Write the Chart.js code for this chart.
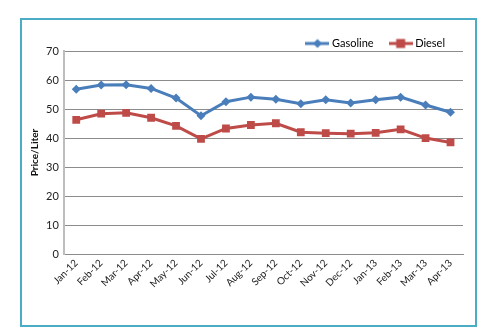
<!DOCTYPE html>
<html>
<head>
<meta charset="utf-8">
<script src="https://cdn.jsdelivr.net/npm/chart.js@4/dist/chart.umd.min.js"></script>
<style>
  html, body { margin: 0; padding: 0; background: #fff; }
  #wrap { width: 478px; height: 327px; }
</style>
</head>
<body>
<div id="wrap"><canvas id="chart" width="478" height="327"></canvas></div>
<script>
const months = ['Jan-12', 'Feb-12', 'Mar-12', 'Apr-12', 'May-12', 'Jun-12', 'Jul-12', 'Aug-12',
  'Sep-12', 'Oct-12', 'Nov-12', 'Dec-12', 'Jan-13', 'Feb-13', 'Mar-13', 'Apr-13'];
const gasoline = [56.8, 58.3, 58.4, 57.1, 53.8, 47.7, 52.5, 54.1, 53.4, 51.8, 53.2, 52.1, 53.2, 54.1, 51.4, 48.9];
const diesel = [46.3, 48.4, 48.7, 47.0, 44.2, 39.7, 43.3, 44.5, 45.1, 42.0, 41.7, 41.5, 41.8, 43.0, 40.0, 38.5];

const blue = '#4a7ebb';
const red = '#be4b48';
const font = 'Lato, "Liberation Sans", sans-serif';

// little line+marker swatch for the legend, like excel does
function swatch(color, shape) {
  const c = document.createElement('canvas');
  c.width = 24; c.height = 12;
  const g = c.getContext('2d');
  g.strokeStyle = color; g.fillStyle = color; g.lineWidth = 3;
  g.beginPath(); g.moveTo(0, 6); g.lineTo(24, 6); g.stroke();
  if (shape === 'diamond') {
    g.beginPath(); g.moveTo(12, 1.5); g.lineTo(16.5, 6); g.lineTo(12, 10.5); g.lineTo(7.5, 6); g.closePath(); g.fill();
  } else {
    g.fillRect(7.5, 1.5, 9, 9);
  }
  return c;
}

const frame = {
  id: 'frame',
  beforeInit(chart) {
    // pull the legend closer to the plot so it sits lower
    const fit = chart.legend.fit;
    chart.legend.fit = function() {
      fit.bind(chart.legend)();
      this.height -= 8;
    };
  },
  beforeDraw(chart) {
    const ctx = chart.ctx;
    ctx.save();
    ctx.fillStyle = '#fff';
    ctx.fillRect(0, 0, chart.width, chart.height);
    ctx.strokeStyle = '#4bacc6';
    ctx.lineWidth = 2;
    ctx.strokeRect(21, 19, 455, 307);
    ctx.restore();
  }
};

new Chart(document.getElementById('chart'), {
  type: 'line',
  data: {
    labels: months,
    datasets: [
      {
        label: 'Gasoline',
        data: gasoline,
        borderColor: blue,
        backgroundColor: blue,
        borderWidth: 3,
        pointStyle: 'rectRot',
        pointRadius: 4.5,
        pointBorderWidth: 0,
        tension: 0
      },
      {
        label: 'Diesel',
        data: diesel,
        borderColor: red,
        backgroundColor: red,
        borderWidth: 3,
        pointStyle: 'rect',
        pointRadius: 5.5,
        pointBorderWidth: 0,
        tension: 0
      }
    ]
  },
  options: {
    responsive: false,
    animation: false,
    layout: {
      padding: {left: 29, right: 15, top: 20, bottom: 34}
    },
    plugins: {
      legend: {
        position: 'top',
        align: 'end',
        labels: {
          usePointStyle: true,
          pointStyleWidth: 18,
          padding: 18,
          color: '#222',
          font: {family: font, size: 11},
          generateLabels: function(chart) {
            return chart.data.datasets.map((ds, i) => ({
              text: ds.label,
              pointStyle: swatch(ds.borderColor, i === 0 ? 'diamond' : 'square'),
              fillStyle: ds.borderColor,
              strokeStyle: ds.borderColor,
              lineWidth: 0,
              datasetIndex: i
            }));
          }
        }
      },
      tooltip: {enabled: false}
    },
    scales: {
      x: {
        offset: true,
        grid: {display: false, drawTicks: false},
        border: {color: '#8c8c8c', width: 1},
        ticks: {
          minRotation: 45,
          maxRotation: 45,
          padding: 3,
          color: '#222',
          font: {family: font, size: 10}
        }
      },
      y: {
        min: 0,
        max: 70,
        ticks: {
          stepSize: 10,
          padding: 5,
          color: '#222',
          font: {family: font, size: 11}
        },
        grid: {color: '#8c8c8c', drawTicks: false},
        border: {color: '#bdbdbd', width: 2},
        title: {
          display: true,
          text: 'Price/Liter',
          color: '#111',
          font: {family: font, size: 10, weight: 'bold'},
          padding: {top: 0, bottom: 0}
        }
      }
    }
  },
  plugins: [frame]
});
</script>
</body>
</html>
